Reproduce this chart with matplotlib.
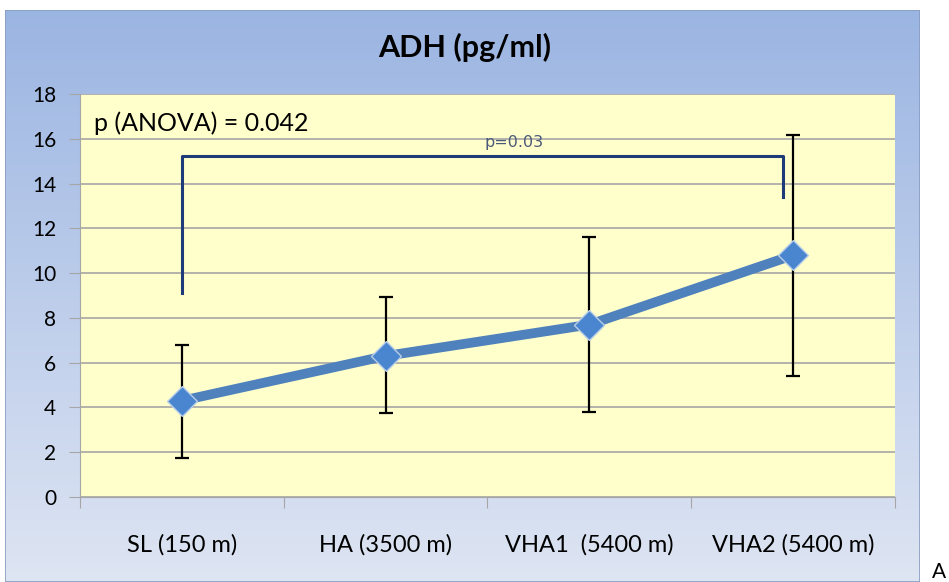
import numpy as np
import matplotlib
matplotlib.use("Agg")
from matplotlib import pyplot as plt
from matplotlib.patches import Rectangle

# values
groups = ["SL (150 m)", "HA (3500 m)", "VHA1  (5400 m)", "VHA2 (5400 m)"]
means = [4.3, 6.3, 7.7, 10.8]
upper = [6.8, 8.95, 11.6, 16.15]
lower = [1.75, 3.75, 3.8, 5.4]
yticks = [0, 2, 4, 6, 8, 10, 12, 14, 16, 18]

plt.rcParams["font.family"] = ["Lato", "DejaVu Sans"]

fig = plt.figure(figsize=(9.49, 5.82), dpi=100)
fig.patch.set_facecolor("white")

# chart area with blue gradient
bg = fig.add_axes([5 / 949, 0, 915 / 949, 572 / 582])
grad = np.linspace(0, 1, 256).reshape(-1, 1)
top = np.array([155, 181, 226]) / 255
bot = np.array([222, 229, 243]) / 255
img = top + (bot - top) * grad[:, :, None]
bg.imshow(img, aspect="auto", extent=[0, 1, 0, 1])
bg.add_patch(Rectangle((0, 0), 1, 1, fill=False, edgecolor="#8a9cc0", lw=1.2,
                       transform=bg.transAxes))
bg.set_axis_off()

ax = fig.add_axes([80 / 949, 1 - 497 / 582, 815 / 949, 403 / 582])
ax.set_facecolor("#ffffcc")
x = np.arange(len(groups))
ax.set_xlim(-0.5, len(groups) - 0.5)
ax.set_ylim(0, 18)
ax.set_yticks(yticks)
ax.grid(axis="y", color="#a6a6a6", lw=1.2)
ax.set_axisbelow(True)

yerr = [np.array(means) - np.array(lower), np.array(upper) - np.array(means)]
ax.errorbar(x, means, yerr=yerr, fmt="none", ecolor="black", elinewidth=1.6,
            capsize=5, capthick=1.6, zorder=3)
ax.plot(x, means, color="#4f81bd", lw=7, solid_capstyle="round", zorder=4)
ax.plot(x, means, ls="none", marker="D", ms=15, mfc="#4a86d0",
        mec="#b8cde8", mew=1, zorder=5)

# significance bracket
ax.plot([0, 0, 2.95, 2.95], [9.1, 15.25, 15.25, 13.4], color="#1f3a78", lw=2.2, zorder=2)
ax.text(1.63, 15.85, "p=0.03", ha="center", va="center", fontsize=11.5,
        color="#4a5a78", family="DejaVu Sans")
ax.text(-0.43, 16.7, "p (ANOVA) = 0.042", ha="left", va="center", fontsize=18)

for s in ["top", "right"]:
    ax.spines[s].set_visible(False)
ax.spines["left"].set_color("#a6a6a6")
ax.spines["bottom"].set_color("#a6a6a6")
ax.tick_params(axis="y", length=8, color="#a6a6a6", labelsize=15, pad=9)
ax.set_xticks(np.arange(-0.5, len(groups), 1))
ax.set_xticklabels([])
ax.tick_params(axis="x", length=8, color="#a6a6a6")
for xi, g in zip(x, groups):
    ax.text(xi, -2.15, g, ha="center", va="center", fontsize=17)

fig.text(0.49, 1 - 47 / 582, "ADH (pg/ml)", ha="center", va="center",
         fontsize=22, fontweight="bold")
fig.text(932 / 949, 1 - 572 / 582, "A", ha="left", va="center", fontsize=15)

fig.savefig("out.png", dpi=100)
